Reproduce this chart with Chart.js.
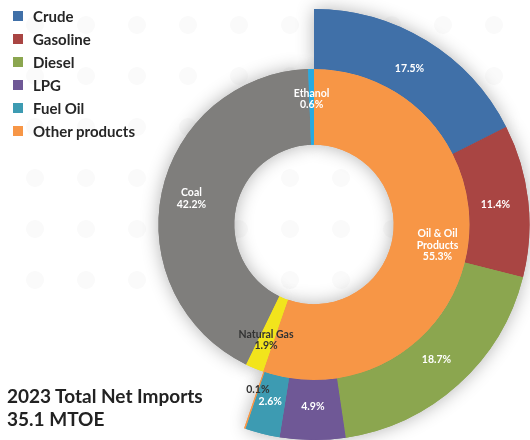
<!DOCTYPE html>
<html>
<head>
<meta charset="utf-8">
<script src="https://cdn.jsdelivr.net/npm/chart.js@4/dist/chart.umd.min.js"></script>
<style>
  html, body { margin: 0; padding: 0; background: #fff; }
  #wrap { position: relative; width: 530px; height: 440px; overflow: hidden; }
  #legend { position: absolute; left: 13px; top: 4px; font: 700 15px Lato, sans-serif; color: #262626; }
  .item { display: flex; align-items: center; height: 23px; }
  .box { width: 10px; height: 10px; margin-right: 10px; }
  #title { position: absolute; left: 7px; top: 384px; font: 700 19px Lato, sans-serif; line-height: 23px; color: #222; }
</style>
</head>
<body>
<div id="wrap">
  <canvas id="imports"></canvas>
  <div id="legend"></div>
  <div id="title">2023 Total Net Imports<br>35.1 MTOE</div>
</div>
<script>
// Oil products (outer ring, only around the oil slice)
const productLabels = ["Crude", "Gasoline", "Diesel", "LPG", "Fuel Oil", "Other products"];
const productShares = [17.5, 11.4, 18.7, 4.9, 2.6, 0.1];
const productColors = ["#4070a8", "#a94543", "#8ba64f", "#6f5896", "#3d9bb2", "#f79646"];

// Energy sources (inner ring)
const sourceLabels = ["Oil & Oil Products", "Natural Gas", "Coal", "Ethanol"];
const sourceShares = [55.3, 1.9, 42.2, 0.6];
const sourceColors = ["#f79646", "#f2e41c", "#7f7e7c", "#27aae1"];

// the outer ring leaves the non-oil part empty
const nonOilShare = sourceShares.slice(1).reduce((a, b) => a + b, 0);

// Building the HTML legend from the product list
const legend = document.getElementById("legend");
productLabels.forEach((name, i) => {
  const row = document.createElement("div");
  row.className = "item";
  row.innerHTML = `<span class="box" style="background:${productColors[i]}"></span>${name}`;
  legend.appendChild(row);
});

// Faint dot pattern behind the chart
const dotPattern = {
  id: "dotPattern",
  beforeDraw(chart) {
    const ctx = chart.ctx;
    ctx.save();
    ctx.fillStyle = "#fafafa";
    for (let r = 0; r < 6; r++) {
      for (let c = 0; c < 10; c++) {
        ctx.beginPath();
        ctx.arc(35 + c * 51, 25 + r * 51, 9, 0, Math.PI * 2);
        ctx.fill();
      }
    }
    ctx.restore();
  },
};

// Soft shadow under the rings: draw every arc once with a shadow, the real arcs go on top
const ringShadow = {
  id: "ringShadow",
  beforeDatasetsDraw(chart) {
    const ctx = chart.ctx;
    ctx.save();
    ctx.shadowColor = "rgba(0, 0, 0, 0.3)";
    ctx.shadowBlur = 18;
    chart.data.datasets.forEach((ds, i) => {
      chart.getDatasetMeta(i).data.forEach((arc) => arc.draw(ctx));
    });
    ctx.restore();
  },
};

// Wrapping a name into lines no wider than maxWidth
function wrapText(ctx, text, maxWidth) {
  const words = text.split(" ");
  const lines = [];
  let line = "";
  words.forEach((w) => {
    const test = line ? line + " " + w : w;
    if (line && ctx.measureText(test).width > maxWidth) {
      lines.push(line);
      line = w;
    } else {
      line = test;
    }
  });
  lines.push(line);
  return lines;
}

// Labels drawn inside each slice
const sliceLabels = {
  id: "sliceLabels",
  afterDatasetsDraw(chart) {
    const ctx = chart.ctx;
    ctx.save();
    ctx.textAlign = "center";
    ctx.textBaseline = "middle";
    ctx.font = "700 10.5px Lato, sans-serif";
    chart.data.datasets.forEach((ds, i) => {
      chart.getDatasetMeta(i).data.forEach((arc, j) => {
        if (!ds.labelText || j >= ds.labelText.length) return;
        const p = arc.getProps(["x", "y", "startAngle", "endAngle", "innerRadius", "outerRadius"], true);
        const mid = (p.startAngle + p.endAngle) / 2;
        const depth = ds.data[j] < 0.5 ? 0.32 : ds.labelDepth;
        const r = p.innerRadius + depth * (p.outerRadius - p.innerRadius);
        const x = p.x + Math.cos(mid) * r;
        const y = p.y + Math.sin(mid) * r;
        const lines = ds.labelText[j](ctx);
        ctx.fillStyle = ds.labelColor[j];
        const lh = 11.5;
        lines.forEach((t, k) => {
          ctx.fillText(t, x, y + (k - (lines.length - 1) / 2) * lh);
        });
      });
    });
    ctx.restore();
  },
};

new Chart(document.getElementById("imports"), {
  type: "doughnut",
  data: {
    labels: productLabels,
    datasets: [
      {
        data: [...productShares, nonOilShare],
        backgroundColor: [...productColors, "rgba(0,0,0,0)"],
        weight: 60,
        labelDepth: 0.45,
        labelText: productShares.map((v) => () => [v + "%"]),
        labelColor: ["#fff", "#fff", "#fff", "#fff", "#fff", "#333"],
      },
      {
        data: sourceShares,
        backgroundColor: sourceColors,
        weight: 76,
        labelDepth: 0.6,
        labelText: sourceLabels.map((name, j) => (ctx) => [...wrapText(ctx, name, 60), sourceShares[j] + "%"]),
        labelColor: ["#fff", "#333", "#fff", "#fff"],
      },
    ],
  },
  options: {
    responsive: true,
    maintainAspectRatio: false,
    animation: false,
    cutout: "37%",
    layout: { padding: { left: 98, top: 9, right: 0, bottom: 0 } },
    elements: { arc: { borderWidth: 0, hoverOffset: 0 } },
    plugins: {
      legend: { display: false },
      tooltip: { enabled: false },
    },
  },
  plugins: [dotPattern, ringShadow, sliceLabels],
});
</script>
</body>
</html>
